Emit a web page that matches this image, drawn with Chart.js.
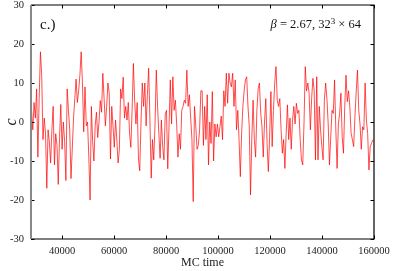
<!DOCTYPE html>
<html>
<head>
<meta charset="utf-8">
<script src="https://cdn.jsdelivr.net/npm/chart.js@4/dist/chart.umd.min.js"></script>
<style>
  html, body { margin: 0; padding: 0; background: #fff; }
  #wrap { width: 407px; height: 271px; }
</style>
</head>
<body>
<div id="wrap"><canvas id="mcChart" width="407" height="271"></canvas></div>
<script>
// MC history of c
const mcStart = 28200;
const mcStep = 490;
const cValues = [
  3, -2, 5, 1, 8.5, -9, 6, 18, 12, -4.5, 1, -3, -17, -2, -5, -10.5, -2, 4, -11, -3,
  -6, -16, -4, 4.5, -7, 0, -5, -15, 8.5, 3, -2, -14.5, -7, 1, 6, 11, 5, 8, 12, 18,
  10, -2.5, 9, -1,
  0, -9, -20, 4, -5, -10, -1, 2.5, -4, 0, 5.5, 2.5, 12.5, 6, -1, 4, 10, 7.5, -9.5, 4,
  -1, -6.5, 0.5, -4.5, -10.5, -7, 8.5, 6, 11.5, 1, 4, 0.5, 5, -3, -6.5, 3, 15, 5.5, -0.5, 5,
  -9.5, -12.5, 0, 10, 4,
  10, -1, 7, 13.8, 0.5, -14.4, -4.5, -9.7, -0.5, 13.3, 4, -3, -9.3, 0.5, -6.3, -9.7, 2, 3, -12, -1,
  10.8, -0.5, 11.6, 3, 5.6, -0.5, -9, -3, -7, 3, 4, 5.6, 4.8, 13.3, 4, 7, 1, -4.5, -20.4, 4,
  -1, -7, -6, -2, 8,
  8, -6, 4, -4.5, 7, -11, 0, -5.5, 7.8, -10, -0.5, -3.8, -0.5, -3.8, -1.2, 1.5, -4.5, 8, 4, 12.5,
  4.8, 12.5, 10, 9, 12.5, 4, 10.8, -2, 3, -4.5, -14, -3, 4, 8, 10.8, 11.6, 4, -1, -18.7, -4.5,
  5.6, -4.5, -9, 3, 8.6,
  10, 2.2, -1.2, -9, 0, 6, -5.5, -12.7, -3.8, 7.8, -6.3, 3, 10, 14.2, 5.6, 4, 6, -2, -8, -4.5,
  -11.9, -2.9, 4.4, -4.5, 1, -7, 0.5, 4, -0.5, 4.8, 2.2, 3, -4.5, -9.7, -11, -0.5, 14.2, 8, 10, 7.4,
  -2, 6, 11.2, 8, -9.7,
  11.6, -9.7, 4, -2, -6.3, -9.7, 5.6, 10, 6, -0.5, -11, -3.8, 3, 2.2, 10.8, -2, -11.9, -0.5, 2.2, 7.4,
  -3.8, -8, 4, 12, 5.2, 8, 4, -2.9, -4.5, -6.3, 1.3, 7.8, 13.3, 3, -0.5, -7, -1.2, -2, 10, 0.5,
  -2.9, -12.3, -6.3, -5.5, -4.6
];
const xTicks = [40000, 60000, 80000, 100000, 120000, 140000, 160000];
const yTicks = [-30, -20, -10, 0, 10, 20, 30];

const serif = '"Liberation Serif", "DejaVu Serif", serif';

// gnuplot-style frame with inward ticks + labels
const framePlugin = {
  id: 'frame',
  afterDatasetsDraw(chart) {
    const { ctx, chartArea: a, scales } = chart;
    ctx.save();
    ctx.strokeStyle = '#000';
    ctx.lineWidth = 1;
    const tl = 3.5;
    ctx.beginPath();
    xTicks.forEach(v => {
      const x = Math.round(scales.x.getPixelForValue(v)) + 0.5;
      ctx.moveTo(x, a.bottom); ctx.lineTo(x, a.bottom - tl);
      ctx.moveTo(x, a.top); ctx.lineTo(x, a.top + tl);
    });
    yTicks.forEach(v => {
      const y = Math.round(scales.y.getPixelForValue(v)) + 0.5;
      ctx.moveTo(a.left, y); ctx.lineTo(a.left + tl, y);
      ctx.moveTo(a.right, y); ctx.lineTo(a.right - tl, y);
    });
    ctx.stroke();

    ctx.lineWidth = 1.2;
    ctx.beginPath();
    ctx.moveTo(a.left, a.top); ctx.lineTo(a.right, a.top);
    ctx.lineTo(a.right, a.bottom); ctx.lineTo(a.left, a.bottom);
    ctx.stroke();
    ctx.strokeStyle = '#888';
    ctx.lineWidth = 2;
    ctx.beginPath();
    ctx.moveTo(a.left, a.top); ctx.lineTo(a.left, a.bottom);
    ctx.stroke();

    ctx.fillStyle = '#111';
    ctx.textBaseline = 'alphabetic';
    ctx.font = '15px ' + serif;
    ctx.textAlign = 'left';
    ctx.fillText('c.)', 40, 29);

    // beta = 2.67, 32^3 x 64
    const fs = 12.5;
    const p1 = ' = 2.67, 32', p3 = ' \u00d7 64';
    ctx.font = 'italic ' + fs + 'px ' + serif;
    const wb = ctx.measureText('\u03b2').width;
    ctx.font = fs + 'px ' + serif;
    const w1 = ctx.measureText(p1).width;
    const w3 = ctx.measureText(p3).width;
    ctx.font = '9px ' + serif;
    const w2 = ctx.measureText('3').width;
    let x = 361 - (wb + w1 + w2 + w3);
    const base = 28;
    ctx.font = 'italic ' + fs + 'px ' + serif;
    ctx.fillText('\u03b2', x, base); x += wb;
    ctx.font = fs + 'px ' + serif;
    ctx.fillText(p1, x, base); x += w1;
    ctx.font = '9px ' + serif;
    ctx.fillText('3', x, base - 4.5); x += w2;
    ctx.font = fs + 'px ' + serif;
    ctx.fillText(p3, x, base);
    ctx.restore();
  }
};

new Chart(document.getElementById('mcChart').getContext('2d'), {
  type: 'line',
  data: {
    datasets: [{
      data: cValues.map((v, i) => ({ x: mcStart + i * mcStep, y: v })),
      borderColor: '#ff0000',
      borderWidth: 0.7,
      pointRadius: 0,
      tension: 0,
      fill: false
    }]
  },
  options: {
    responsive: false,
    devicePixelRatio: 1,
    animation: false,
    layout: { padding: { top: 5, right: 33, left: 0, bottom: 0 } },
    plugins: { legend: { display: false }, tooltip: { enabled: false } },
    scales: {
      x: {
        type: 'linear',
        min: 28000,
        max: 160000,
        grid: { display: false, drawTicks: false },
        border: { display: false },
        afterBuildTicks: s => { s.ticks = xTicks.map(v => ({ value: v })); },
        afterFit: s => { s.height = 32; s.paddingLeft = 0; s.paddingRight = 0; },
        ticks: {
          font: { family: serif, size: 10.5 },
          color: '#222',
          padding: 6,
          maxRotation: 0,
          autoSkip: false,
          callback: v => String(v)
        },
        title: {
          display: true,
          text: 'MC time',
          font: { family: serif, size: 12 },
          color: '#222',
          padding: { top: 0, bottom: 1 }
        }
      },
      y: {
        min: -30,
        max: 30,
        grid: { display: false, drawTicks: false },
        border: { display: false },
        afterBuildTicks: s => { s.ticks = yTicks.map(v => ({ value: v })); },
        afterFit: s => { s.width = 31; s.paddingTop = 0; s.paddingBottom = 0; },
        ticks: {
          font: { family: serif, size: 10.5 },
          color: '#222',
          padding: 7
        },
        title: {
          display: true,
          text: 'c',
          font: { family: serif, size: 16, style: 'italic' },
          color: '#222',
          padding: { top: 2, bottom: 0 }
        }
      }
    }
  },
  plugins: [framePlugin]
});
</script>
</body>
</html>
